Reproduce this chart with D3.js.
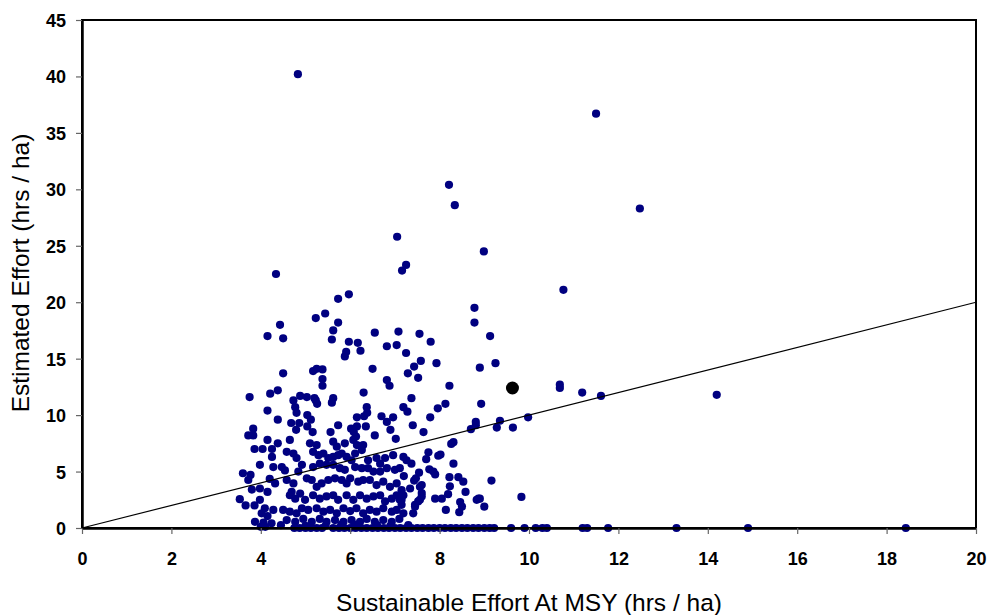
<!DOCTYPE html>
<html><head><meta charset="utf-8">
<script src="https://cdn.jsdelivr.net/npm/d3@7/dist/d3.min.js"></script>
<style>body{margin:0;background:#fff}svg{display:block}</style>
</head><body>
<svg id="c" width="987" height="615"></svg>
<script>
// Sustainable effort at MSY (x) and estimated effort (y), hrs / ha
const msyEffort = [
 4.83,11.5,8.21,8.34,12.48,8.99,7.05,7.25,7.16,4.34,5.97,5.73,10.77,8.78,8.78,
 5.23,5.44,5.73,4.43,4.15,4.5,5.62,5.59,5.97,6.17,6.23,5.91,5.88,6.55,7.08,6.82,7.04,7.25,7.55,7.8,7.58,7.43,7.29,7.52,7.93,9.13,9.25,8.9,6.5,5.17,5.25,5.38,5.38,5.38,4.5,6.82,6.88,8.22,6.3,
 14.2,11.61,11.19,10.69,10.69,9.98,9.35,9.28,9.64,8.93,8.81,8.81,8.7,9.16,9.83,8.9,9.0,
 3.75,4.21,4.38,4.15,4.38,4.88,5.03,5.2,4.73,4.77,4.8,5.23,5.26,5.62,5.59,7.37,7.19,7.28,7.96,8.13,
 5.04,5.12,4.68,4.79,4.86,5.04,5.16,5.73,5.56,6.15,6.31,6.38,6.37,6.02,6.08,6.15,6.13,
 6.35,6.7,6.96,6.82,6.9,6.55,7.02,7.4,7.64,7.79,
 8.26,8.31,8.31,8.22,8.42,8.53,8.58,8.83,8.87,8.14,8.44,8.46,8.5,7.9,8.05,8.19,
 7.75,7.97,8.02,7.77,7.86,7.7,7.54,7.47,7.43,7.37,7.19,7.26,7.2,7.34,7.11,7.15,7.6,7.56,7.45,
 7.9,7.6,7.56,8.23,7.15,7.19,7.6,7.52,7.45,7.11,7.15,7.19,7.41,7.1,
 3.83,3.72,3.83,4.15,4.38,3.86,4.04,4.25,4.25,3.98,4.28,3.6,3.77,3.72,4.2,4.32,3.8,3.98,4.15,3.53,3.66,3.86,3.98,4.09,4.28,4.02,4.15,3.87,4.06,4.24,4.0,4.1,
 4.65,5.1,5.25,5.62,5.7,5.88,6.07,6.15,6.29,6.26,
 4.58,4.73,4.8,5.17,5.29,5.4,5.51,5.62,5.73,5.81,5.92,6.03,6.11,6.4,6.59,6.67,6.78,6.96,
 4.47,4.54,4.92,4.84,5.17,5.32,5.47,5.62,5.77,5.88,6.11,6.26,6.4,6.52,6.67,6.82,7.0,
 4.58,4.73,4.69,5.03,5.14,5.25,5.36,5.51,5.66,5.81,5.92,6.0,6.18,6.29,6.44,6.59,6.74,6.89,7.04,
 4.65,4.77,4.88,4.99,5.17,5.32,5.47,5.62,5.73,5.92,6.07,6.22,6.37,6.52,6.67,6.78,6.93,7.04,
 4.5,4.65,4.8,4.92,5.06,5.25,5.4,5.55,5.7,5.85,6.0,6.14,6.29,6.44,6.59,6.74,6.93,7.04,
 4.58,4.77,4.95,5.14,5.32,5.47,5.66,5.85,6.03,6.22,6.37,6.55,6.74,6.93,
 4.45,5.45,6.1,6.9,7.3,5.0,5.8,6.6,
 4.75,4.87,5.0,5.12,5.25,5.37,5.62,5.75,5.87,6.0,6.12,6.25,6.37,6.5,6.62,6.75,6.87,7.0,7.12,7.25,7.37,7.5,7.62,7.75,7.87,8.0,8.12,8.25,8.37,8.5,8.62,8.75,8.87,9.0,9.12,9.22,
 9.6,9.9,10.15,10.3,10.4,11.2,11.3,11.77,13.3,14.9,18.43
];
const estEffort = [
 40.2,36.7,30.4,28.6,28.3,24.5,25.8,23.3,22.8,22.5,20.7,20.3,21.1,19.5,18.2,
 18.6,19.0,18.2,18.0,17.0,16.8,17.5,16.7,16.5,16.4,15.7,15.6,15.2,17.3,17.4,16.1,16.2,15.5,17.2,16.5,14.8,14.3,13.7,13.3,14.6,17.0,14.6,14.2,14.1,13.9,14.1,14.05,13.2,12.6,13.7,13.1,12.6,12.6,12.0,
 11.8,11.7,12.0,12.7,12.4,9.8,9.5,8.9,8.9,11.0,9.4,9.1,8.75,4.2,2.75,2.6,1.9,
 11.6,11.9,12.2,10.4,9.6,11.7,11.6,11.5,11.3,10.7,10.2,11.3,11.0,11.5,11.1,11.5,10.7,10.3,10.6,11.0,
 10.0,9.6,9.3,8.7,9.3,9.0,8.5,9.1,8.5,9.8,9.9,10.2,10.7,8.8,8.5,9.0,8.1,
 9.0,9.9,9.8,9.4,8.7,8.2,7.9,9.1,8.5,9.8,
 7.45,7.6,5.7,4.5,4.5,4.1,3.2,2.5,2.6,1.6,1.4,2.3,1.9,2.6,2.6,3.0,
 6.7,6.4,6.5,5.2,5.0,6.1,4.9,4.4,4.2,5.7,6.3,6.0,4.6,3.5,5.3,2.5,3.1,2.5,1.9,
 4.75,3.8,3.65,3.7,3.35,2.9,2.8,2.35,2.05,2.5,2.05,1.3,1.3,0.8,
 8.8,8.2,8.2,7.8,7.5,7.0,7.0,7.0,6.3,5.6,5.4,4.85,4.7,4.25,4.35,3.95,3.4,3.5,3.2,2.55,2.0,2.0,2.5,1.75,1.6,1.3,1.06,0.55,0.47,0.41,0.1,0.1,
 7.8,7.5,7.35,7.65,7.2,7.5,7.8,7.35,7.35,6.9,
 6.75,6.6,6.2,6.75,6.45,6.6,6.2,6.3,6.45,6.6,6.3,6.0,6.6,6.0,6.2,5.7,6.2,6.45,
 5.4,5.1,5.6,5.0,5.4,5.7,5.6,5.6,5.3,5.15,5.4,5.3,5.3,5.0,5.0,5.3,5.15,
 4.25,3.95,3.2,4.4,4.25,3.65,3.95,4.25,4.4,4.25,3.95,4.4,4.1,4.25,4.25,3.8,4.1,3.65,3.95,
 2.9,2.6,3.05,2.5,2.9,2.6,2.8,2.9,2.5,2.9,2.5,2.9,2.6,2.8,2.9,2.35,2.6,2.9,
 1.6,1.45,1.3,1.75,1.6,1.75,1.45,1.6,1.3,1.75,1.5,1.75,1.3,1.6,1.45,1.75,1.45,1.6,
 0.7,0.55,0.8,0.55,0.8,0.55,0.7,0.55,0.7,0.55,0.8,0.55,0.7,0.55,
 0.25,0.2,0.3,0.2,0.25,0.2,0.3,0.25,
 0,0,0,0,0,0,0,0,0,0,0,0,0,0,0,0,0,0,0,0,0,0,0,0,0,0,0,0,0,0,0,0,0,0,0,0,
 0,0,0,0,0,0,0,0,0,0,0
];
// highlighted point
const highlightX = [9.63];
const highlightY = [12.4];
// reference line y = x
const refLineX = [0, 20];
const refLineY = [0, 20];
const xTicks = [0,2,4,6,8,10,12,14,16,18,20];
const yTicks = [0,5,10,15,20,25,30,35,40,45];
const xTitle = "Sustainable Effort At MSY (hrs / ha)";
const yTitle = "Estimated Effort (hrs / ha)";

const svg = d3.select("#c");
const L = 82, R = 976, T = 20, B = 528;
const x = d3.scaleLinear().domain([0,20]).range([L,R]);
const y = d3.scaleLinear().domain([0,45]).range([B,T]);
const font = "'Liberation Sans', Arial, sans-serif";

// points
const pts = msyEffort.map((v,i)=>({x:v,y:estEffort[i]}));
svg.append("g").selectAll("circle").data(pts).join("circle")
  .attr("cx",d=>x(d.x)).attr("cy",d=>y(d.y)).attr("r",4.1).attr("fill","#000080");

// line
svg.append("path").datum(refLineX.map((v,i)=>[v,refLineY[i]]))
  .attr("d", d3.line().x(d=>x(d[0])).y(d=>y(d[1])))
  .attr("stroke","#000").attr("stroke-width",1.2).attr("fill","none");

// highlighted
svg.append("g").selectAll("circle").data(highlightX.map((v,i)=>({x:v,y:highlightY[i]}))).join("circle")
  .attr("cx",d=>x(d.x)).attr("cy",d=>y(d.y)).attr("r",6.5).attr("fill","#000");

// frame
svg.append("rect").attr("x",L).attr("y",T).attr("width",R-L).attr("height",B-T)
  .attr("fill","none").attr("stroke","#000").attr("stroke-width",2);

// axes
const xa = svg.append("g").attr("transform",`translate(0,${B})`)
  .call(d3.axisBottom(x).tickValues(xTicks).tickSize(6).tickSizeOuter(0).tickPadding(18));
const ya = svg.append("g").attr("transform",`translate(${L},0)`)
  .call(d3.axisLeft(y).tickValues(yTicks).tickSize(6).tickSizeOuter(0).tickPadding(10));
[xa,ya].forEach(a=>{
  a.select(".domain").attr("stroke","#000").attr("stroke-width",2.5);
  a.selectAll(".tick line").attr("stroke","#666").attr("stroke-width",1.2);
  a.selectAll(".tick text").attr("font-family",font).attr("font-weight","bold")
    .attr("font-size",18).attr("fill","#000");
});
ya.selectAll(".tick text").attr("dy","0.36em");
xa.selectAll(".tick text").attr("dy","0.71em");

svg.append("text").attr("x",(L+R)/2).attr("y",611).attr("text-anchor","middle")
  .attr("font-family",font).attr("font-size",24.5).attr("fill","#000").text(xTitle);
svg.append("text").attr("transform","translate(29,273) rotate(-90)").attr("text-anchor","middle")
  .attr("font-family",font).attr("font-size",24.5).attr("fill","#000").text(yTitle);
</script>
</body></html>
